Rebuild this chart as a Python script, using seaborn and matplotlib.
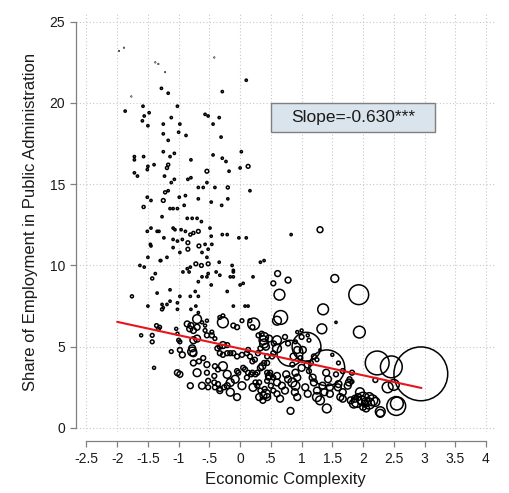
import numpy as np
import pandas as pd
import matplotlib
matplotlib.use("Agg")
import matplotlib.pyplot as plt
from matplotlib.patches import Rectangle
import seaborn as sns

# ---------------- data ----------------
complexity = [
    # faint tiny
    -1.89, -1.97, -1.38, -1.33, -1.22, -0.42, -1.77,
    # small dots
    0.10, -1.28, -1.17, -0.29, -1.87, -1.58, -1.48, -1.56, -1.59, -1.50,
    -1.02, -1.12, -1.25, -0.98, -1.25, -1.00, -0.88, -1.17, -1.25, -1.14,
    -1.07, -0.80, -1.72, -1.72, -1.57, -1.50, -1.40, -0.57, -0.52, -0.34,
    -0.44, -0.31, -0.44, -0.29, -0.23, 0.02, 0.00, -0.18, 0.16, -0.20,
    -0.30, -0.54, -0.41, -0.60, -0.68, -0.47, -0.80, -0.85, -1.07, -0.99,
    -0.89, -0.91, -1.72, -1.67, -1.51, -1.23, -1.12, -1.51, -1.45, -1.17,
    -1.14, -1.09, -1.02, -1.27, -0.68, -0.86, -0.78, -0.70, -0.63, -1.51,
    -1.45, -1.35, -1.32, -1.24, -1.09, -1.06, -0.96, -0.89, -0.49, -0.47,
    -0.29, -0.21, -0.02, 0.10, 0.83, -1.45, -1.09, -1.02, -0.94, -1.09,
    -0.98, -0.57, -0.52, -0.62, -0.46, -0.54, -1.50, -1.30, -1.19, -1.46,
    -0.81, -0.83, -0.52, -0.34, -0.39, -0.33, -0.13, -0.11, -0.11, -1.63,
    -1.56, -1.38, -0.93, -0.86, 0.21, 0.33, 0.39, -1.29, -1.35, -1.14,
    -1.50, -1.27, -1.25, -1.19, -1.14, -1.02, -0.98, -1.02, -0.21, 0.00,
    0.05, -0.16, -0.11, -0.47, -0.54, -0.62, -0.68, -0.68, -0.73, -0.81,
    -0.80, -0.68, -0.72, -0.11, 0.08, 0.13, 1.56, 1.30,
    # d4
    -1.19, -1.17, -0.20, -1.57, -1.22, -0.81, -0.76, -1.43, -1.76, -1.27,
    -1.61, -1.40, -1.04, -1.02, -0.54, -0.57, -0.62, 1.50, 0.93, 1.00,
    1.10,
    # d5
    0.13, -0.54, -1.25, -0.68, -0.85, -0.85, -0.67, -0.72, -0.63, -0.52,
    -1.43, -1.43, -1.36, -1.31, -1.33, -1.00, -0.98, -1.12, -0.33, -0.28,
    0.03, 0.16, -0.57, -0.46, -0.41, 0.90, 1.12, 1.25, 1.60, 1.82,
    # d6
    0.54, -0.98, -0.11, -0.05, 0.20, -0.54, -0.46, 0.30, 0.35, -0.67,
    -0.60, -0.37, -0.33, -0.33, -0.28, -0.21, -0.21, -0.16, -0.11, -0.05,
    0.03, 0.11, 0.13, 0.16, 0.20, 0.24, 0.29, 0.33, 0.44, 0.52,
    0.54, 0.39, 0.44, 0.55, 0.73, 0.78, 1.00, 0.85, 0.98, 1.20,
    1.15, -0.54, -0.52, -0.42, -0.41, -0.36, 0.11, 0.20, 0.31, 0.49,
    0.54, -0.52, -0.42, -0.36, -0.33, -0.41, -0.26, -0.05, -0.03, 0.05,
    0.08, 0.13, 0.18, 0.25, 0.28, 0.44, 0.46, 0.25, 0.28, 0.44,
    0.50, 0.54, 0.40, 0.33, 1.78, 1.67, 1.56, 1.12, 1.82, 2.20,
    # d7
    0.61, 0.78, 1.30, -0.94, -0.80, -0.82, -0.76, -0.70, -0.86, -0.76,
    -1.02, -0.98, -0.81, -0.54, -0.33, -0.21, 0.33, 0.60, 0.37,
    # d8
    -0.76, -0.70, -0.78, -0.76, -0.28, 0.36, 0.93, 1.02, 0.87, 0.47,
    0.42, -0.62, -0.05, 0.31, 0.65, 0.38, 0.44, 0.60, 0.60, 0.68,
    0.73, 0.90, 0.93, 0.89, 0.93, 1.06, 1.10, 1.20, 1.25, 1.34,
    1.37, 1.40, 1.43, 1.46, 1.46, 1.59, 1.60, 1.63, 1.67, 1.67,
    1.75, 1.77, 1.80, 1.87, 1.92, 2.03, 2.00, 2.05, 1.18, 1.00,
    0.47, 1.10, 0.75, 0.78, 0.82,
    # d9-10
    1.54, -0.70, -0.21, -0.16, -0.08, -0.16, 0.03, 0.21, 2.28,
    -0.70, 0.60, 0.38, 0.39, 0.39, 0.60, 0.60, -0.78, -0.28, 0.42,
    0.85, 0.90, 1.25, 1.30, 1.98, 2.05, 2.10, 1.95, 1.41, 1.85, 2.20,
    # d11-15
    1.33, 2.28, 0.64, -0.28, 1.35, 2.50, 2.40, 1.90, 2.10, 2.15,
    0.22, 1.94, 2.00, 2.55, 0.66,
    # large
    2.54, 1.93, 2.46, 2.23, 0.81, 1.08, 1.41, 2.94,
]

public_admin_share = [
    # faint tiny
    23.4, 23.2, 22.5, 22.4, 21.9, 22.8, 20.4,
    # small dots
    21.4, 20.9, 20.6, 20.7, 19.5, 19.8, 19.4, 19.2, 18.9, 18.6,
    19.8, 19.1, 18.7, 18.7, 18.1, 18.2, 18.0, 17.7, 17.0, 16.7,
    16.9, 16.5, 16.7, 16.5, 16.7, 16.1, 16.2, 19.3, 19.2, 19.1,
    18.7, 17.9, 16.8, 16.6, 16.4, 17.0, 16.0, 15.8, 14.6, 14.1,
    13.7, 15.1, 14.8, 14.8, 14.8, 13.9, 15.4, 15.3, 15.3, 14.2,
    14.3, 13.7, 15.7, 15.5, 15.9, 15.5, 15.1, 14.2, 14.0, 14.6,
    13.5, 13.5, 13.5, 13.0, 14.1, 12.9, 12.9, 12.9, 12.7, 12.1,
    12.3, 12.1, 12.1, 11.7, 12.3, 12.2, 12.2, 12.1, 12.3, 11.8,
    11.9, 11.9, 11.7, 11.7, 11.9, 11.2, 11.6, 11.5, 11.6, 11.1,
    10.8, 11.3, 11.0, 10.8, 11.3, 10.5, 10.5, 10.3, 10.5, 11.3,
    9.9, 9.6, 9.5, 10.2, 9.6, 9.4, 10.0, 9.6, 9.3, 10.0,
    9.9, 9.5, 9.6, 9.8, 9.3, 10.2, 10.3, 10.3, 8.3, 8.5,
    7.5, 7.6, 7.4, 7.6, 7.8, 7.7, 8.1, 7.3, 8.4, 8.8,
    8.9, 9.3, 9.7, 8.8, 9.3, 9.3, 9.0, 8.1, 8.4, 8.1,
    7.3, 7.1, 7.5, 7.5, 7.5, 7.5, 6.5, 4.8,
    # d4
    16.0, 16.2, 14.8, 13.6, 14.5, 11.9, 12.0, 9.2, 8.1, 7.3,
    5.7, 3.7, 6.1, 5.8, 6.6, 6.3, 6.5, 4.5, 5.9, 6.0,
    5.7,
    # d5
    16.1, 15.8, 14.0, 12.1, 11.4, 11.0, 11.2, 10.1, 10.0, 10.1,
    5.7, 5.3, 6.3, 6.2, 6.1, 5.4, 5.3, 4.7, 6.8, 6.9,
    6.6, 6.6, 6.0, 5.9, 5.5, 5.3, 5.4, 4.2, 4.0, 2.85,
    # d6
    8.9, 4.8, 6.3, 6.2, 6.2, 5.7, 5.7, 5.7, 5.8, 4.1,
    4.3, 4.9, 5.0, 4.6, 4.5, 4.6, 5.1, 4.6, 4.6, 4.4,
    4.5, 4.6, 4.8, 4.4, 4.1, 4.2, 4.6, 4.9, 4.4, 4.4,
    4.6, 4.0, 4.0, 5.2, 5.6, 5.2, 5.6, 3.9, 4.3, 4.4,
    4.0, 3.4, 2.9, 3.2, 3.8, 3.6, 3.1, 3.4, 2.8, 3.4,
    3.1, 2.5, 2.8, 2.7, 2.4, 2.5, 2.5, 3.5, 3.4, 3.7,
    3.6, 3.4, 3.3, 3.3, 3.4, 3.4, 3.1, 2.8, 2.6, 2.9,
    2.6, 2.3, 2.4, 2.3, 3.0, 3.5, 3.3, 3.5, 3.4, 2.95,
    # d7
    9.5, 9.1, 12.2, 4.5, 6.3, 6.1, 6.0, 6.2, 6.4, 4.0,
    3.4, 3.3, 2.6, 3.9, 2.3, 2.6, 3.7, 2.1, 1.7,
    # d8
    5.4, 5.5, 4.9, 4.6, 5.1, 3.8, 4.8, 4.8, 4.4, 5.5,
    5.0, 2.6, 1.9, 1.9, 1.8, 2.0, 1.9, 3.2, 2.8, 2.6,
    2.3, 3.4, 3.1, 2.2, 1.9, 2.5, 2.1, 2.8, 2.3, 2.6,
    2.2, 3.4, 3.0, 2.1, 2.5, 2.5, 2.7, 1.9, 2.2, 1.8,
    2.6, 2.8, 1.7, 1.8, 1.9, 1.5, 1.3, 1.2, 3.1, 3.7,
    3.2, 3.9, 3.3, 3.0, 1.05,
    # d9-10
    9.2, 3.4, 3.3, 2.8, 3.0, 2.2, 2.6, 2.5, 0.9,
    6.7, 6.6, 5.4, 5.6, 5.2, 5.4, 4.9, 4.7, 3.8, 2.1,
    2.8, 2.6, 1.9, 1.7, 1.7, 1.6, 1.9, 2.2, 1.2, 1.5, 1.6,
    # d11-15
    6.1, 1.0, 8.2, 6.5, 7.3, 2.65, 2.5, 1.6, 1.5, 1.7,
    6.4, 5.9, 1.8, 1.5, 6.8,
    # large
    1.35, 8.2, 3.76, 4.0, 4.6, 5.0, 3.7, 3.33,
]

# bubble weight (employment), area-proportional
employment = [
    # faint tiny
    0.3, 0.3, 0.3, 0.3, 0.3, 0.3, 0.3,
    # small dots
    5, 5, 5, 5, 5, 5, 5, 5, 5, 5,
    5, 5, 5, 5, 5, 5, 5, 5, 5, 5,
    5, 5, 5, 5, 5, 5, 5, 5, 5, 5,
    5, 5, 5, 5, 5, 5, 5, 5, 5, 5,
    5, 5, 5, 5, 5, 5, 5, 5, 5, 5,
    5, 5, 5, 5, 5, 5, 5, 5, 5, 5,
    5, 5, 5, 5, 5, 5, 5, 5, 5, 5,
    5, 5, 5, 5, 5, 5, 5, 5, 5, 5,
    5, 5, 5, 5, 5, 5, 5, 5, 5, 5,
    5, 5, 5, 5, 5, 5, 5, 5, 5, 5,
    5, 5, 5, 5, 5, 5, 5, 5, 5, 5,
    5, 5, 5, 5, 5, 5, 5, 5, 5, 5,
    5, 5, 5, 5, 5, 5, 5, 5, 5, 5,
    5, 5, 5, 5, 5, 5, 5, 5, 5, 5,
    5, 5, 5, 5, 5, 5, 5, 5,
    # d4
    9, 9, 9, 9, 9, 9, 9, 9, 9, 9,
    9, 9, 9, 9, 9, 9, 9, 9, 9, 9,
    9,
    # d5
    14, 14, 14, 14, 14, 14, 14, 14, 14, 14,
    14, 14, 14, 14, 14, 14, 14, 14, 14, 14,
    14, 14, 14, 14, 14, 14, 14, 14, 14, 14,
    # d6
    23, 23, 23, 23, 23, 23, 23, 23, 23, 23,
    23, 23, 23, 23, 23, 23, 23, 23, 23, 23,
    23, 23, 23, 23, 23, 23, 23, 23, 23, 23,
    23, 23, 23, 23, 23, 23, 23, 23, 23, 23,
    23, 23, 23, 23, 23, 23, 23, 23, 23, 23,
    23, 23, 23, 23, 23, 23, 23, 23, 23, 23,
    23, 23, 23, 23, 23, 23, 23, 23, 23, 23,
    23, 23, 23, 23, 23, 23, 23, 23, 23, 23,
    # d7
    34, 34, 34, 34, 34, 34, 34, 34, 34, 34,
    34, 34, 34, 34, 34, 34, 34, 34, 34,
    # d8
    46, 46, 46, 46, 46, 46, 46, 46, 46, 46,
    46, 46, 46, 46, 46, 46, 46, 46, 46, 46,
    46, 46, 46, 46, 46, 46, 46, 46, 46, 46,
    46, 46, 46, 46, 46, 46, 46, 46, 46, 46,
    46, 46, 46, 46, 46, 46, 46, 46, 46, 46,
    46, 46, 46, 46, 46,
    # d9-10
    61, 61, 61, 61, 61, 61, 61, 61, 61,
    77, 77, 77, 77, 77, 77, 77, 77, 77, 77,
    77, 77, 77, 77, 77, 77, 77, 77, 77, 77, 77,
    # d11-15
    96, 96, 117, 117, 117, 117, 117, 117, 117, 117,
    139, 139, 164, 164, 190,
    # large
    353, 392, 475, 566, 666, 829, 1282, 2894,
]

# fitted line (from the reference)
fit_x = [-2.0, 2.95]
fit_y = [6.53, 2.46]
slope_label = "Slope=-0.630***"

x_ticks = [-2.5, -2, -1.5, -1, -0.5, 0, 0.5, 1, 1.5, 2, 2.5, 3, 3.5, 4]
x_tick_labels = ["-2.5", "-2", "-1.5", "-1", "-.5", "0", ".5", "1", "1.5",
                 "2", "2.5", "3", "3.5", "4"]
y_ticks = [0, 5, 10, 15, 20, 25]

assert len(complexity) == len(public_admin_share) == len(employment)

# ---------------- plotting ----------------
sns.set_style("white")
plt.rcParams["font.family"] = ["Liberation Sans", "DejaVu Sans"]

DPI = 100
fig = plt.figure(figsize=(5.10, 4.93), dpi=DPI)
ax = fig.add_axes([0.149, 0.1237, 0.822, 0.852])

df = pd.DataFrame({"complexity": complexity,
                   "share": public_admin_share,
                   "employment": employment})

wmax = max(employment)
pt_per_px = 72.0 / DPI
sns.scatterplot(data=df, x="complexity", y="share", size="employment",
                sizes=(0, wmax * pt_per_px ** 2), size_norm=(0, wmax),
                facecolor="none", edgecolor="black", linewidth=1.1,
                legend=False, ax=ax, zorder=3)
for coll in ax.collections:
    coll.set_facecolor("none")
    coll.set_edgecolor("black")
    coll.set_linewidth(1.1)

sns.lineplot(x=fit_x, y=fit_y, color="#e8141c", linewidth=1.5, ax=ax,
             zorder=4)

ax.set_xlim(-2.67, 4.15)
ax.set_ylim(-0.25, 25.6)
ax.set_xticks(x_ticks)
ax.set_xticklabels(x_tick_labels)
ax.set_yticks(y_ticks)
ax.set_yticklabels([str(v) for v in y_ticks])

ax.grid(True, color="#c8c8c8", linestyle=(0, (1, 2)), linewidth=0.8)
ax.set_axisbelow(True)

for side in ("top", "right"):
    ax.spines[side].set_visible(False)
ax.spines["left"].set_color("#808080")
ax.spines["left"].set_linewidth(0.9)
ax.spines["left"].set_bounds(0, 25)
ax.spines["bottom"].set_color("#808080")
ax.spines["bottom"].set_linewidth(0.9)
ax.spines["bottom"].set_position(("outward", 6.5))
ax.spines["bottom"].set_bounds(-2.5, 4)

ax.tick_params(axis="both", direction="out", length=4, width=0.9,
               color="#808080", labelsize=10, labelcolor="#1a1a1a", pad=4)
ax.tick_params(axis="x", bottom=True)
ax.tick_params(axis="y", left=True)

ax.set_xlabel("Economic Complexity", fontsize=12, color="#1a1a1a", labelpad=4)
ax.set_ylabel("Share of Employment in Public Administration", fontsize=12,
              color="#1a1a1a", labelpad=8)

# annotation box
ax.add_patch(Rectangle((0.5, 18.2), 2.67, 1.8, transform=ax.transData,
                       facecolor="#dae4ec", edgecolor="#7f7f7f",
                       linewidth=1.0, zorder=5))
ax.text(1.835, 19.1, slope_label, ha="center", va="center", fontsize=12.5,
        color="#1a1a1a", zorder=6)

fig.savefig("out.png", dpi=DPI)
